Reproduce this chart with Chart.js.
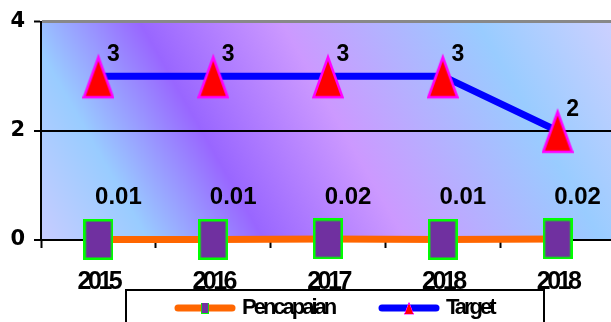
<!DOCTYPE html>
<html>
<head>
<meta charset="utf-8">
<script src="https://cdn.jsdelivr.net/npm/chart.js@4/dist/chart.umd.min.js"></script>
<style>
  html, body { margin: 0; padding: 0; overflow: hidden; background: #fff; }
  #wrap { width: 616px; height: 322px; }
</style>
</head>
<body>
<div id="wrap"><canvas id="c" width="616" height="322"></canvas></div>
<script>
// Data
const years = ['2015', '2016', '2017', '2018', '2018'];
const pencapaian = [0.01, 0.01, 0.02, 0.01, 0.02];
const target = [3, 3, 3, 3, 2];
const yTicks = [0, 2, 4];

// Marker images
function markerCanvas(w, h, draw) {
  const c = document.createElement('canvas');
  c.width = w; c.height = h;
  draw(c.getContext('2d'), w, h);
  return c;
}
const squareMark = markerCanvas(30, 41, (g, w, h) => {
  g.fillStyle = '#7030a0';
  g.fillRect(0, 0, w, h);
  g.strokeStyle = '#00ff00';
  g.lineWidth = 2.5;
  g.strokeRect(1.25, 1.25, w - 2.5, h - 2.5);
});
const triMark = markerCanvas(32, 48, (g, w, h) => {
  g.beginPath();
  g.moveTo(w / 2, 5);
  g.lineTo(w - 1.5, 45);
  g.lineTo(1.5, 45);
  g.closePath();
  g.fillStyle = '#ff0000';
  g.fill();
  g.strokeStyle = '#ff00ff';
  g.lineWidth = 2.5;
  g.stroke();
});

// Diagonal multi-stop fill behind the plot area
const plotBackground = {
  id: 'plotBackground',
  beforeDraw(chart) {
    const { ctx, chartArea: a } = chart;
    const g = ctx.createLinearGradient(a.left - 94, a.top + 54, a.left + 431, a.top - 245);
    [[0, '#c8ccff'], [0.155, '#99ccff'], [0.321, '#9966ff'], [0.525, '#cc99ff'], [0.806, '#99ccff'], [1, '#ccd0ff']]
      .forEach(s => g.addColorStop(s[0], s[1]));
    ctx.save();
    ctx.fillStyle = g;
    ctx.fillRect(a.left, a.top, a.right - a.left, a.bottom - a.top);
    ctx.restore();
  }
};

// Tight letter spacing for the category labels
const tightCategoryLabels = {
  id: 'tightCategoryLabels',
  afterLayout(chart) {
    const xs = chart.scales.x;
    if (xs._tight) return;
    const base = xs.drawLabels.bind(xs);
    xs.drawLabels = function (area) {
      const c = this.ctx;
      c.save();
      c.letterSpacing = '-3.5px';
      base(area);
      c.restore();
    };
    xs._tight = true;
  }
};

// Value labels above-right of each marker
const valueLabels = {
  id: 'valueLabels',
  afterDatasetsDraw(chart) {
    const ctx = chart.ctx;
    chart.data.datasets.forEach((ds, i) => {
      const meta = chart.getDatasetMeta(i);
      const o = ds.valueLabel;
      ctx.save();
      ctx.font = o.font;
      ctx.fillStyle = '#000';
      ctx.textAlign = 'center';
      ctx.textBaseline = 'alphabetic';
      meta.data.forEach((pt, j) => {
        ctx.fillText(String(ds.data[j]), pt.x + o.dx, pt.y + o.dy);
      });
      ctx.restore();
    });
  }
};

// Legend in an open-bottomed box under the axis
const boxedLegend = {
  id: 'boxedLegend',
  afterDraw(chart) {
    const ctx = chart.ctx;
    ctx.save();
    ctx.strokeStyle = '#000';
    ctx.lineWidth = 2;
    ctx.beginPath();
    ctx.moveTo(126, chart.height + 2);
    ctx.lineTo(126, 290);
    ctx.lineTo(544, 290);
    ctx.lineTo(544, chart.height + 2);
    ctx.stroke();
    const starts = [175, 379];
    const sizes = [[8, 11], [10, 14]];
    const y = 308;
    chart.data.datasets.forEach((ds, i) => {
      const x0 = starts[i];
      ctx.strokeStyle = ds.borderColor;
      ctx.lineWidth = 7;
      ctx.lineCap = 'round';
      ctx.beginPath();
      ctx.moveTo(x0 + 3, y);
      ctx.lineTo(x0 + 57, y);
      ctx.stroke();
      const [mw, mh] = sizes[i];
      ctx.drawImage(ds.pointStyle, x0 + 30 - mw / 2, y - mh / 2, mw, mh);
      ctx.fillStyle = '#000';
      ctx.font = 'bold 22px "Liberation Sans", Arial, sans-serif';
      ctx.letterSpacing = '-3px';
      ctx.textAlign = 'left';
      ctx.textBaseline = 'alphabetic';
      ctx.fillText(ds.label, x0 + 67, 314);
      ctx.letterSpacing = '0px';
    });
    ctx.restore();
  }
};

new Chart(document.getElementById('c'), {
  type: 'line',
  data: {
    labels: years,
    datasets: [
      {
        label: 'Pencapaian',
        data: pencapaian,
        borderColor: '#ff6600',
        borderWidth: 7,
        pointStyle: squareMark,
        pointRadius: 15,
        pointHoverRadius: 15,
        clip: false,
        tension: 0,
        valueLabel: { dx: 20, dy: -35, font: 'bold 24px "Liberation Sans", Arial, sans-serif' }
      },
      {
        label: 'Target',
        data: target,
        borderColor: '#0000ff',
        borderWidth: 7,
        pointStyle: triMark,
        pointRadius: 15,
        pointHoverRadius: 15,
        clip: false,
        tension: 0,
        valueLabel: { dx: 15, dy: -15, font: 'bold 23px "Liberation Sans", Arial, sans-serif' }
      }
    ]
  },
  options: {
    responsive: false,
    animation: false,
    devicePixelRatio: 1,
    events: [],
    layout: { autoPadding: false, padding: { top: 20, right: 1, left: 0, bottom: 0 } },
    plugins: { legend: { display: false }, tooltip: { enabled: false } },
    scales: {
      x: {
        offset: true,
        grid: { offset: true, drawOnChartArea: false, tickLength: 8, tickColor: '#000', tickWidth: 2 },
        border: { color: '#000', width: 2 },
        ticks: {
          color: '#000',
          padding: 19,
          maxRotation: 0,
          autoSkip: false,
          font: { family: '"Liberation Sans", Arial, sans-serif', weight: 'bold', size: 25 }
        },
        afterFit(s) { s.height = 82; s.paddingLeft = 0; s.paddingRight = 0; }
      },
      y: {
        min: 0,
        max: 4,
        afterBuildTicks(s) { s.ticks = yTicks.map(v => ({ value: v })); },
        grid: {
          color: c => (c.tick && c.tick.value === 4 ? '#888888' : '#000000'),
          lineWidth: c => (c.tick && c.tick.value === 4 ? 3 : 2),
          tickColor: '#000',
          tickLength: 7,
          tickWidth: 2
        },
        border: { color: '#000', width: 2 },
        ticks: {
          color: '#000',
          padding: 9,
          font: { family: '"DejaVu Sans", Verdana, sans-serif', weight: 'bold', size: 21 }
        },
        afterFit(s) { s.width = 41; }
      }
    }
  },
  plugins: [plotBackground, tightCategoryLabels, valueLabels, boxedLegend]
});
</script>
</body>
</html>
